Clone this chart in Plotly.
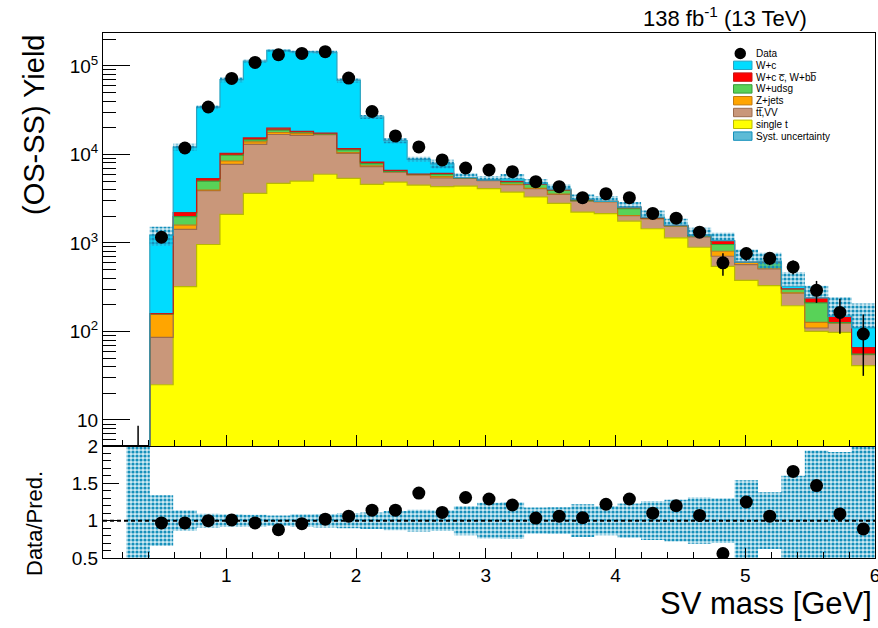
import numpy as np
import plotly.graph_objects as go

# ---------------- data ----------------
x_lo, x_hi, n_bins = 0.05, 6.0, 33
edges = np.linspace(x_lo, x_hi, n_bins + 1)
centers = 0.5 * (edges[:-1] + edges[1:])

single_t = [0, 0, 25, 321, 959, 2100, 3620, 4710, 5000, 5960, 5360, 4580, 4865, 4500, 4315,
            4390, 4100, 3750, 3300, 2795, 2230, 2140, 1760, 1445, 1142, 893, 544, 378, 330,
            195, 100, 97.5, 41]
ttbar_vv = [0, 0, 60.5, 1098, 2940, 5620, 9380, 12050, 11430, 10720, 4920, 2700, 1440, 1350,
            1095, 950, 950, 800, 800, 735, 760, 780, 270, 430, 400, 279, 163, 191, 179, 77,
            9.4, 27, 13.5]
z_jets = [0, 0, 71.5, 166, 50, 700, 820, 900, 800, 200, 200, 150, 60, 60, 200, 40, 30, 30, 30,
          40, 10, 10, 10, 10, 10, 10, 98, 32, 5, 1, 17.2, 0.5, 0.5]
w_udsg = [0, 0, 1, 392, 1050, 1350, 740, 1100, 600, 200, 740, 440, 60, 50, 345, 50, 30, 290,
          450, 380, 10, 10, 390, 20, 10, 20, 154, 3, 90, 29, 83.4, 0.5, 0.5]
w_ccbb = [0, 0, 1, 216, 323, 510, 790, 1010, 370, 300, 420, 330, 175, 40, 155, 20, 10, 80, 20,
          30, 70, 10, 105, 15, 10, 10, 86, 3, 6, 1, 29, 22.5, 10]
w_c = [0, 0, 1063, 9907, 28778, 59720, 97650, 130230, 125300, 124620, 56860, 18300, 7700, 2800,
       1690, 10, 10, 320, 177, 95, 40, 0, 0, 35, 18, 23, 20, 0, 14, 21, 0, 0, 44]

data = [None, 1.0, 1159, 11800, 34300, 72100, 109400, 133400, 138300, 144500, 72800, 30500,
        16140, 12130, 8650, 7015, 6660, 6380, 4920, 4320, 3245, 3600, 3245, 2152, 1905, 1322,
        596, 759, 670, 536, 291, 164, 93.5]
data_err_up = [0, 7.6, 80, 300, 500, 700, 900, 1000, 1000, 1000, 700, 500, 400, 350, 300, 280,
               260, 250, 230, 210, 190, 180, 170, 150, 140, 110, 170, 130, 110, 95, 81, 70, 62]
data_err_dn = [0, 0.9, 80, 300, 500, 700, 900, 1000, 1000, 1000, 700, 500, 400, 350, 300, 280,
               260, 250, 230, 210, 190, 180, 170, 150, 140, 110, 170, 130, 110, 95, 81, 70, 62]

syst_up = [0, 0, 300, 1050, 1800, 4700, 3900, 5300, 4800, 6200, 3600, 1400, 950, 590, 890, 650,
           570, 740, 460, 505, 410, 430, 355, 375, 285, 250, 235, 234, 150, 142, 90, 97, 97]
syst_dn = [0, 0, 300, 1050, 1800, 4700, 3900, 5300, 4800, 6200, 3600, 1400, 950, 590, 890, 0,
           0, 0, 200, 125, 0, 0, 0, 0, 0, 60, 0, 0, 115, 0, 0, 0, 0]

ratio = [None, None, 0.97, 0.97, 1.0, 1.01, 0.97, 0.88, 0.96, 1.02, 1.06, 1.14, 1.14, 1.37,
         1.11, 1.31, 1.29, 1.21, 1.035, 1.06, 1.04, 1.22, 1.29, 1.10, 1.20, 1.07, 0.56, 1.25,
         1.06, 1.66, 1.47, 1.09, 0.89]
ratio_unc = [0, 1.05, 0.34, 0.14, 0.093, 0.085, 0.08, 0.07, 0.085, 0.09, 0.10, 0.11, 0.13, 0.145,
             0.14, 0.195, 0.24, 0.245, 0.175, 0.18, 0.22, 0.195, 0.23, 0.26, 0.28, 0.31, 0.30,
             0.54, 0.38, 0.6, 0.94, 0.92, 1.05]

y_ticks = [10, 100, 1000, 10000, 100000]
y_ticktext = ["10", "10<sup>2</sup>", "10<sup>3</sup>", "10<sup>4</sup>", "10<sup>5</sup>"]
r_ticks = [0.5, 1, 1.5, 2]
r_ticktext = ["0.5", "1", "1.5", "2"]

# components from bottom to top of the stack
layers = [
    ("single t", single_t, "#ffff00", "#b9b900"),
    ("t\u0074\u0305,VV", ttbar_vv, "#c9977a", "#9c6b4e"),
    ("Z+jets", z_jets, "#ffa500", "#c27a10"),
    ("W+udsg", w_udsg, "#58d258", "#3a9a3a"),
    ("W+c c\u0305, W+bb\u0305", w_ccbb, "#ff0000", "#c41a1a"),
    ("W+c", w_c, "#00dcff", "#2aa3c0"),
]
HATCH = "#1590bb"
FONT = "Liberation Sans"

# ---------------- figure ----------------
fig = go.Figure()

step_x = list(edges)
floor_val = 1.0   # just below the visible log range
cum = np.zeros(n_bins)

fig.add_trace(go.Scatter(x=step_x, y=[floor_val] * (n_bins + 1), mode="lines",
                         line=dict(width=0), line_shape="hv", xaxis="x2", yaxis="y2",
                         showlegend=False, hoverinfo="skip"))
for name, vals, fc, lc in layers:
    cum = cum + np.array(vals, dtype=float)
    yv = [max(v, floor_val) for v in cum]
    yv = yv + [yv[-1]]
    fig.add_trace(go.Scatter(x=step_x, y=yv, mode="lines", line=dict(color=lc, width=1.2),
                             line_shape="hv", fill="tonexty", fillcolor=fc,
                             xaxis="x2", yaxis="y2", showlegend=False, name=name,
                             hoverinfo="skip"))
total = cum

fillpat = dict(shape=".", fgcolor=HATCH, fgopacity=1, size=4, solidity=0.5,
               fillmode="overlay")
band_fill = "rgba(80,180,212,0.28)"


def boxes(lo_list, hi_list):
    xs, ys = [], []
    for i in range(n_bins):
        lo, hi = lo_list[i], hi_list[i]
        if lo is None or hi is None or hi <= lo:
            continue
        a, b = edges[i], edges[i + 1]
        xs += [a, b, b, a, a, None]
        ys += [lo, lo, hi, hi, lo, None]
    return xs, ys


# systematic uncertainty band (top)
top_lo = [float(total[i] - syst_dn[i]) if total[i] > 0 else None for i in range(n_bins)]
top_hi = [float(total[i] + syst_up[i]) if total[i] > 0 else None for i in range(n_bins)]
hx, hy = boxes(top_lo, top_hi)
fig.add_trace(go.Scatter(x=hx, y=hy, mode="none", fill="toself", fillcolor=band_fill,
                         fillpattern=fillpat, xaxis="x2", yaxis="y2", showlegend=False,
                         hoverinfo="skip"))

# data points
fig.add_trace(go.Scatter(x=centers, y=data, mode="markers", xaxis="x2", yaxis="y2",
                         marker=dict(color="black", size=13),
                         error_y=dict(type="data", symmetric=False, array=data_err_up,
                                      arrayminus=data_err_dn, color="black", thickness=1.5,
                                      width=0),
                         showlegend=False, hoverinfo="skip"))

# ratio panel band (clipped to the panel range)
r_lo = [max(1 - u, 0.5) if u > 0 else None for u in ratio_unc]
r_hi = [min(1 + u, 2.0) if u > 0 else None for u in ratio_unc]
rx, ry = boxes(r_lo, r_hi)
fig.add_trace(go.Scatter(x=rx, y=ry, mode="none", fill="toself", fillcolor=band_fill,
                         fillpattern=fillpat, xaxis="x", yaxis="y", showlegend=False,
                         hoverinfo="skip"))
fig.add_trace(go.Scatter(x=[x_lo, x_hi], y=[1, 1], mode="lines", xaxis="x", yaxis="y",
                         line=dict(color="black", width=2, dash="4px,3px"),
                         showlegend=False, hoverinfo="skip"))
fig.add_trace(go.Scatter(x=centers, y=ratio, mode="markers", xaxis="x", yaxis="y",
                         marker=dict(color="black", size=13), showlegend=False,
                         hoverinfo="skip"))

# ---------------- layout ----------------
W, H = 878, 628
L, R, T, B = 103, 3, 33, 70
pw, ph = W - L - R, H - T - B
split = (558 - 446) / ph


def px2paper(px, py):
    return (px - L) / pw, (H - B - py) / ph


tickfont = dict(family=FONT, size=19, color="black")
common_x = dict(range=[x_lo, x_hi], showline=True, linecolor="black", linewidth=1, mirror=True,
                showgrid=False, zeroline=False, ticks="inside", tickmode="linear", tick0=0,
                dtick=1, tickcolor="black", tickwidth=1, automargin=False,
                minor=dict(ticks="inside", dtick=0.2, tick0=0, ticklen=6, tickcolor="black",
                           tickwidth=1, showgrid=False))

minor_log = [m * 10 ** e for e in range(0, 6) for m in range(2, 10)]

fig.update_layout(
    width=W, height=H, margin=dict(l=L, r=R, t=T, b=B, autoexpand=False),
    paper_bgcolor="white", plot_bgcolor="white",
    font=dict(family=FONT, color="black"),
    showlegend=False,
    xaxis=dict(**common_x, anchor="y", ticklen=10, showticklabels=True, tickfont=tickfont,
               ticklabeloverflow="allow"),
    xaxis2=dict(**common_x, anchor="y2", matches="x", ticklen=11, showticklabels=False),
    yaxis=dict(domain=[0, split], range=[0.5, 2.0], showline=True, linecolor="black",
               linewidth=1, mirror=True, showgrid=False, zeroline=False, ticks="inside",
               tickmode="array", tickvals=r_ticks, ticktext=r_ticktext, ticklen=16,
               tickcolor="black", tickfont=tickfont, ticklabeloverflow="allow",
               automargin=False,
               minor=dict(ticks="inside", dtick=0.1, tick0=0, ticklen=8, tickcolor="black",
                          showgrid=False)),
    yaxis2=dict(domain=[split, 1], type="log", range=[np.log10(5.08), np.log10(2.35e5)],
                showline=True, linecolor="black", linewidth=1, mirror=True, showgrid=False,
                zeroline=False, ticks="inside", tickmode="array", tickvals=y_ticks,
                ticktext=y_ticktext, ticklen=27, tickcolor="black", tickfont=tickfont,
                automargin=False,
                minor=dict(ticks="inside", tickmode="array", tickvals=minor_log, ticklen=13,
                           tickcolor="black", showgrid=False)),
)

ann = []
x, y = px2paper(34, 125)
ann.append(dict(text="(OS-SS) Yield", x=x, y=y, xref="paper", yref="paper", textangle=-90,
                showarrow=False, xanchor="center", yanchor="middle",
                font=dict(family=FONT, size=29, color="black")))
x, y = px2paper(34, 524)
ann.append(dict(text="Data/Pred.", x=x, y=y, xref="paper", yref="paper", textangle=-90,
                showarrow=False, xanchor="center", yanchor="middle",
                font=dict(family=FONT, size=22, color="black")))
x, y = px2paper(874, 603)
ann.append(dict(text="SV mass [GeV]", x=x, y=y, xref="paper", yref="paper",
                showarrow=False, xanchor="right", yanchor="middle",
                font=dict(family=FONT, size=31, color="black")))
x, y = px2paper(809, 17)
ann.append(dict(text="138 fb<sup>-1</sup> (13 TeV)", x=x, y=y, xref="paper", yref="paper",
                showarrow=False, xanchor="right", yanchor="middle",
                font=dict(family=FONT, size=22, color="black")))

# compact legend like the reference
shapes = []
leg_entries = [("Data", None, None)] + [(n, fc, lc) for n, _, fc, lc in layers[::-1]] + \
              [("Syst. uncertainty", "hatch", None)]
y0 = 53.5
dy = 11.8
for k, (name, fc, lc) in enumerate(leg_entries):
    cy = y0 + k * dy
    if fc is None:
        a0, b0 = px2paper(734.5, cy + 5.8)
        a1, b1 = px2paper(746.0, cy - 5.8)
        shapes.append(dict(type="circle", xref="paper", yref="paper", x0=a0, x1=a1, y0=b0,
                           y1=b1, fillcolor="black", line=dict(color="black", width=0)))
    elif fc == "hatch":
        a0, b0 = px2paper(733.5, cy + 4.2)
        a1, b1 = px2paper(752.0, cy - 4.2)
        shapes.append(dict(type="rect", xref="paper", yref="paper", x0=a0, x1=a1, y0=b0,
                           y1=b1, fillcolor="#5dbbd6", line=dict(color=HATCH, width=1)))
    else:
        a0, b0 = px2paper(733.5, cy + 4.2)
        a1, b1 = px2paper(752.0, cy - 4.2)
        shapes.append(dict(type="rect", xref="paper", yref="paper", x0=a0, x1=a1, y0=b0,
                           y1=b1, fillcolor=fc, line=dict(color=lc, width=1)))
    tx, ty = px2paper(754, cy)
    ann.append(dict(text=name, x=tx, y=ty, xref="paper", yref="paper", showarrow=False,
                    xanchor="left", yanchor="middle",
                    font=dict(family=FONT, size=10, color="black")))

fig.update_layout(annotations=ann, shapes=shapes)
fig.write_html("out.html", config={"displayModeBar": False},
               post_script="document.body.style.margin='0px';"
                           "document.body.style.padding='0px';"
                           "document.body.style.overflow='hidden';")
